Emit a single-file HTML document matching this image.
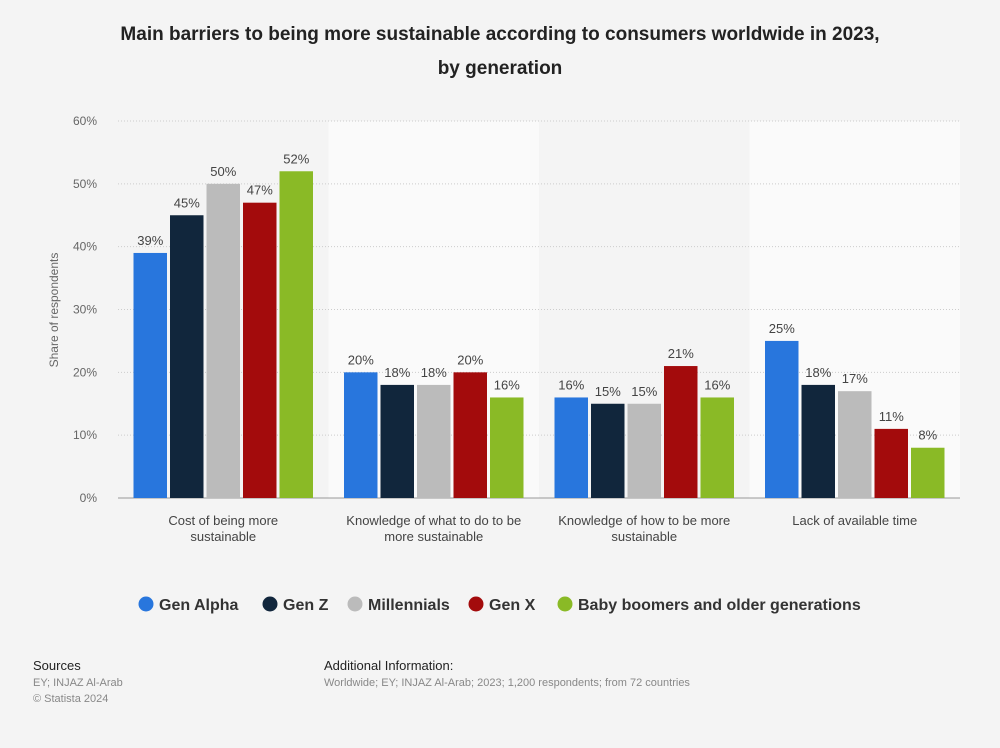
<!DOCTYPE html>
<html><head><meta charset="utf-8"><style>
body{margin:0;background:#f4f4f4;font-family:"Liberation Sans",sans-serif;}
svg text{font-family:"Liberation Sans",sans-serif;}
</style></head><body>
<svg width="1000" height="743" viewBox="0 0 1000 743">
<rect width="1000" height="743" fill="#f4f4f4"/>
<text x="500" y="40" text-anchor="middle" font-size="19" font-weight="bold" fill="#222">Main barriers to being more sustainable according to consumers worldwide in 2023,</text>
<text x="500" y="74" text-anchor="middle" font-size="19" font-weight="bold" fill="#222">by generation</text>
<g id="bands"></g><g id="grid"></g><g id="bars"></g><g id="labels"></g><g id="xlabels"></g>
<text transform="translate(58,310) rotate(-90)" text-anchor="middle" font-size="12" fill="#666">Share of respondents</text>
<g id="legend"></g>
<text x="33" y="670" font-size="13" fill="#222">Sources</text>
<text x="33" y="686" font-size="11" fill="#888">EY; INJAZ Al-Arab</text>
<text x="33" y="702" font-size="11" fill="#888">© Statista 2024</text>
<text x="324" y="670" font-size="13" fill="#222">Additional Information:</text>
<text x="324" y="686" font-size="11" fill="#888">Worldwide; EY; INJAZ Al-Arab; 2023; 1,200 respondents; from 72 countries</text>
</svg>
<script>
const categories=[["Cost of being more","sustainable"],["Knowledge of what to do to be","more sustainable"],["Knowledge of how to be more","sustainable"],["Lack of available time"]];
const seriesNames=["Gen Alpha","Gen Z","Millennials","Gen X","Baby boomers and older generations"];
const genAlpha=[39,20,16,25];
const genZ=[45,18,15,18];
const millennials=[50,18,15,17];
const genX=[47,20,21,11];
const boomers=[52,16,16,8];
const yTicks=[0,10,20,30,40,50,60];
const series=[genAlpha,genZ,millennials,genX,boomers];
const colors=["#2876dd","#11263c","#bbbbbb","#a30b0c","#8aba26"];
const NS="http://www.w3.org/2000/svg";
const x0=118,x1=960,y0=498,yTop=121,yMax=60;
const gw=(x1-x0)/categories.length;
const y=v=>y0-(v/yMax)*(y0-yTop);
function mk(p,t,a){const e=document.createElementNS(NS,t);for(const k in a)e.setAttribute(k,a[k]);document.getElementById(p).appendChild(e);return e;}
categories.forEach((c,i)=>{
 const b=mk("bands","rect",{x:x0+i*gw,y:yTop,width:gw,height:y0-yTop,fill:i%2?"#fafafa":"#f4f4f4"});
 
 
 c.forEach((ln,j)=>{const t=mk("xlabels","text",{x:x0+i*gw+gw/2,y:525+j*16,"text-anchor":"middle","font-size":"13",fill:"#444"});t.textContent=ln;
 
 });
});
yTicks.forEach(v=>{
 const l=mk("grid","line",{x1:x0,x2:x1,y1:y(v),y2:y(v),stroke:v===0?"#999":"#ccc","stroke-dasharray":v===0?"":"1,2","stroke-width":1});
 
 
 const t=mk("grid","text",{x:97,y:y(v)+4,"text-anchor":"end","font-size":"12",fill:"#666"});t.textContent=v+"%";
 
 
});
series.forEach((s,si)=>{
 s.forEach((v,ci)=>{
  const bx=x0+ci*gw+15.5+si*36.5;
  const r=mk("bars","rect",{x:bx,y:y(v),width:33.5,height:y0-y(v),fill:colors[si]});
  
  
  const t=mk("labels","text",{x:bx+16.75,y:y(v)-8,"text-anchor":"middle","font-size":"13",fill:"#444"});t.textContent=v+"%";
  
  
 });
});
const lx=[146,270,355,476,565];
seriesNames.forEach((n,i)=>{
 const c=mk("legend","circle",{cx:lx[i],cy:604,r:7.5,fill:colors[i]});
 
 
 const t=mk("legend","text",{x:lx[i]+13,y:610,"font-size":"16","font-weight":"bold",fill:"#333"});t.textContent=n;
 
 
});
</script>
</body></html>
